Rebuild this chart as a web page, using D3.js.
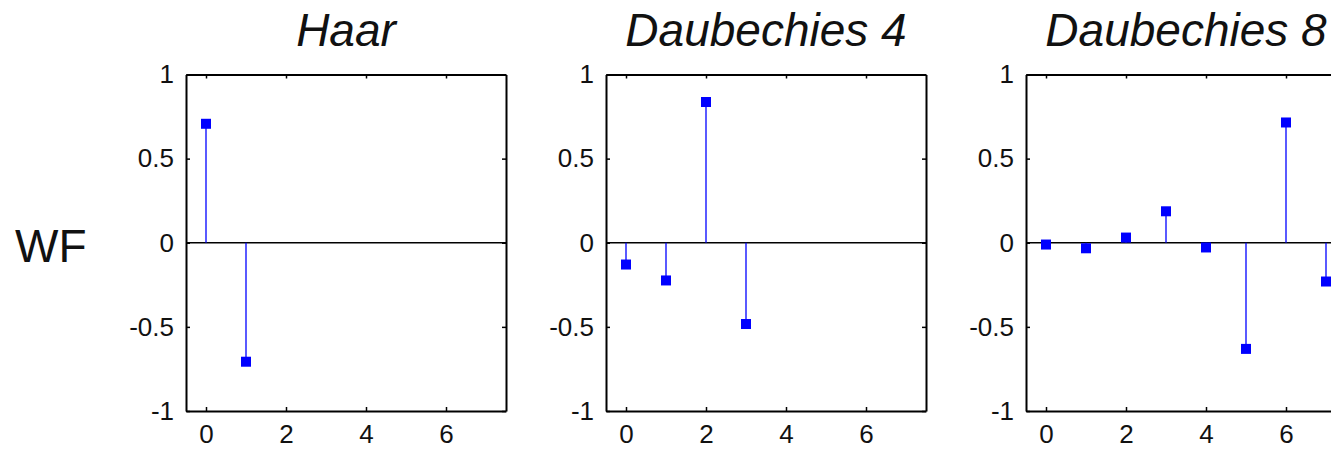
<!DOCTYPE html>
<html>
<head>
<meta charset="utf-8">
<script src="https://cdn.jsdelivr.net/npm/d3@7"></script>
<style>
  body { margin: 0; background: #fff; }
  svg { display: block; }
  .tick text { font-family: "Liberation Sans", Arial, sans-serif; font-size: 26px; fill: #111; }
</style>
</head>
<body>
<svg id="chart" width="1331" height="449"></svg>
<script>
// wavelet filter coefficients
const haar = [0.7071, -0.7071];
const daub4 = [-0.1294, -0.2241, 0.8365, -0.4830];
const daub8 = [-0.0106, -0.0329, 0.0308, 0.1870, -0.0280, -0.6309, 0.7148, -0.2304];

const titres = ["Haar", "Daubechies 4", "Daubechies 8"];
const series = [haar, daub4, daub8];
const xTicks = [0, 2, 4, 6];
const yTicks = [-1, -0.5, 0, 0.5, 1];
const rowLabel = "WF";

const svg = d3.select("#chart");

const panelLeft = [186, 606, 1026];
const largeur = 320;
const haut = 74.5, bas = 411;
const tickLen = 4;

let y = d3.scaleLinear().domain([-1, 1]).range([bas, haut]);

svg.append("text")
    .attr("x", 15)
    .attr("y", 262)
    .style("font-family", "'Liberation Sans', Arial, sans-serif")
    .style("font-size", "46px")
    .style("fill", "#111")
    .text(rowLabel);

function dessinePanneau(i) {
    let data = series[i];
    let x = d3.scaleLinear().domain([-0.5, 7.5]).range([panelLeft[i], panelLeft[i] + largeur]);
    let g = svg.append("g");

    g.append("text")
        .attr("x", panelLeft[i] + largeur / 2)
        .attr("y", 46)
        .attr("text-anchor", "middle")
        .style("font-family", "'Liberation Sans', Arial, sans-serif")
        .style("font-size", "46px")
        .style("font-style", "italic")
        .style("fill", "#111")
        .text(titres[i]);

    // zero line
    g.append("line")
        .attr("x1", x(-0.5)).attr("x2", x(7.5))
        .attr("y1", y(0)).attr("y2", y(0))
        .style("stroke", "black")
        .style("stroke-width", 1.5);

    // stems
    g.selectAll(".tige").data(data).enter()
        .append("line")
        .attr("class", "tige")
        .attr("x1", (d, k) => x(k)).attr("x2", (d, k) => x(k))
        .attr("y1", y(0)).attr("y2", (d) => y(d))
        .style("stroke", "#0000ff")
        .style("stroke-width", 1.3);

    g.selectAll(".marque").data(data).enter()
        .append("rect")
        .attr("class", "marque")
        .attr("x", (d, k) => x(k) - 5)
        .attr("y", (d) => y(d) - 5)
        .attr("width", 10)
        .attr("height", 10)
        .style("fill", "#0000ff");

    // axes, ticks pointing inward
    let axeBas = d3.axisBottom(x).tickValues(xTicks).tickSizeInner(-tickLen).tickSizeOuter(0).tickPadding(14);
    let axeHaut = d3.axisTop(x).tickValues(xTicks).tickSizeInner(-tickLen).tickSizeOuter(0).tickFormat("");
    let axeGauche = d3.axisLeft(y).tickValues(yTicks).tickSizeInner(-tickLen).tickSizeOuter(0).tickPadding(12).tickFormat((d) => String(d));
    let axeDroite = d3.axisRight(y).tickValues(yTicks).tickSizeInner(-tickLen).tickSizeOuter(0).tickFormat("");

    g.append("g").attr("transform", `translate(0,${bas})`).call(axeBas);
    g.append("g").attr("transform", `translate(0,${haut})`).call(axeHaut);
    g.append("g").attr("transform", `translate(${x(-0.5)},0)`).call(axeGauche);
    g.append("g").attr("transform", `translate(${x(7.5)},0)`).call(axeDroite);

    g.selectAll(".domain").style("stroke", "black").style("stroke-width", 2);
    g.selectAll(".tick line").style("stroke", "black").style("stroke-width", 1.5);
}

titres.forEach((t, i) => dessinePanneau(i));
</script>
</body>
</html>
